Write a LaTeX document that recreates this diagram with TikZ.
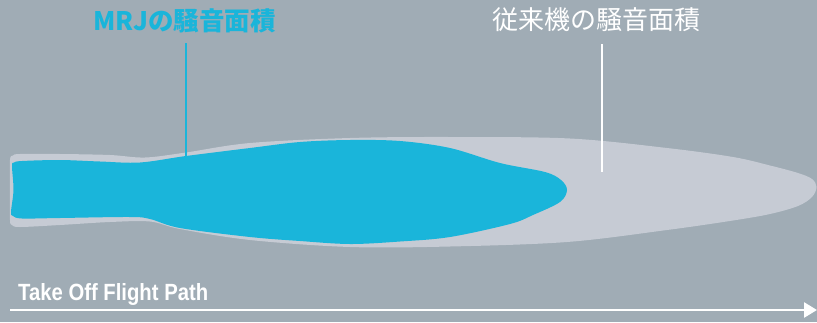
\documentclass[tikz,border=0pt]{standalone}
\usepackage{fontspec}
\setmainfont{Liberation Sans}
\newfontfamily\cjkfont{Noto Sans CJK JP}
\usetikzlibrary{arrows.meta}
\definecolor{bgcol}{HTML}{A0ACB5}
\definecolor{lightarea}{HTML}{C6CBD4}
\definecolor{mrjcyan}{HTML}{1AB5DA}
\begin{document}
\begin{tikzpicture}[x=1pt,y=-1pt,
  label/.style={inner sep=0pt,anchor=base west},
  leader/.style={line width=1.8pt},
  area/.style={draw=none}]
\useasboundingbox (0,0) rectangle (817,322);
\fill[bgcol] (0,0) rectangle (817,322);
% conventional aircraft noise area
\fill[lightarea] plot[smooth cycle,tension=0.55] coordinates {
 (10,160) (13,155.5) (20,154) (60,154) (110,155) (145,157.5) (186,152.5) (250,143)
 (350,138) (450,137) (570,138.5) (667,148) (733,157) (770,165.5) (798,173) (812,179)
 (816.5,187) (812,197) (798,206) (770,214) (733,220.5) (667,230) (567,242) (450,246.5) (350,247) (250,240)
 (180,229) (150,221.5) (110,222) (60,225) (20,227) (12,225) (10,220) (10,190)};
% MRJ noise area
\fill[mrjcyan] plot[smooth cycle,tension=0.55] coordinates {
 (12,166) (14,162.5) (22,161) (60,160) (100,161.5) (140,162.5) (186,156) (250,148)
 (300,142) (350,140) (400,141) (450,148) (500,163) (545,172) (561,180) (567,190)
 (560,202) (533,215) (510,224) (450,237) (400,241.5) (350,244) (300,241) (250,237)
 (180,228) (150,219) (130,217) (60,218) (22,218.5) (13,216) (11,212) (13.5,190)};
% labels
\node[label,text=mrjcyan,font=\cjkfont\bfseries\fontsize{25.5}{28}\selectfont] (mrj) at (93,30) {MRJの騒音面積};
\node[label,text=white,font=\cjkfont\fontsize{26}{29}\selectfont] (conv) at (492,29.5) {従来機の騒音面積};
\coordinate (mrjtop) at (186,43);
\coordinate (mrjend) at (186,156);
\coordinate (convtop) at (602,44);
\coordinate (convend) at (602,172);
\draw[leader,draw=mrjcyan] (mrjtop) -- (mrjend);
\draw[leader,draw=white,line width=2pt] (convtop) -- (convend);
% flight path
\node[label,text=white] (tof) at (18,300) {\resizebox{190pt}{17pt}{\bfseries Take Off Flight Path}};
\coordinate (pathstart) at (10,310);
\coordinate (pathend) at (817,310);
\draw[white,line width=2.7pt,-{Triangle[length=13pt,width=15pt]}] (pathstart) -- (pathend);
\end{tikzpicture}
\end{document}
